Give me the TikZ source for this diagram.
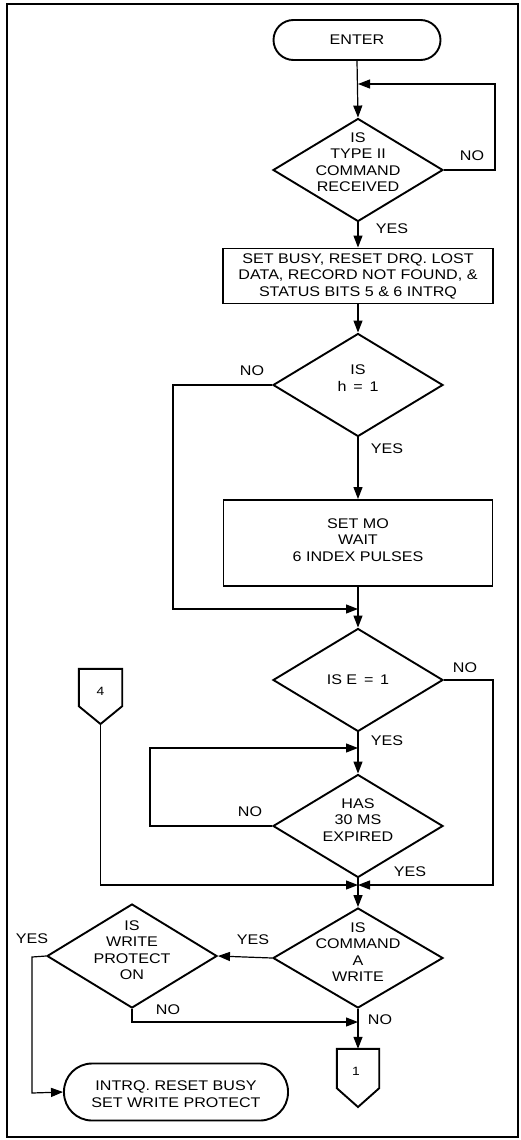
\documentclass[tikz,border=0pt]{standalone}
\usepackage{fontspec}
\setmainfont{Liberation Sans}[FakeStretch=1.15]
\usetikzlibrary{arrows.meta,shapes.geometric}
\tikzset{
  txt/.style={font=\fontsize{14}{16.5}\selectfont, align=center, inner sep=0pt},
  dec/.style={diamond, draw, line width=1.9pt, minimum width=170pt, minimum height=103pt, inner sep=0pt},
  proc/.style={rectangle, draw, line width=1.9pt, inner sep=0pt},
  term/.style={rectangle, draw, line width=1.9pt, inner sep=0pt},
  flow/.style={line width=1.2pt, -{Triangle[length=12pt,width=9pt]}},
  plain/.style={line width=1.2pt},
  conshape/.style={draw, line width=1.9pt, line join=miter},
}
\begin{document}
\begin{tikzpicture}[x=1pt,y=-1pt]
\useasboundingbox (0,0) rectangle (520,1140);
\draw[line width=1.3pt] (7,4) rectangle (518,1137);

% nodes
\node[term, minimum width=167pt, minimum height=40pt, rounded corners=20pt] (enter) at (357,40) {};
\node[txt] (entert) at (357,40) {ENTER};

\node[dec] (d1) at (358,170) {};
\node[txt] (d1t) at (358,162) {IS\\TYPE II\\COMMAND\\RECEIVED};

\node[proc, minimum width=270pt, minimum height=55pt] (b1) at (358,276) {};
\node[txt] (b1t) at (358,276) {SET BUSY, RESET DRQ. LOST\\DATA, RECORD NOT FOUND, \&\\STATUS BITS 5 \& 6 INTRQ};

\node[dec] (d2) at (358,385) {};
\node[txt] (d2t) at (358,378) {IS\\h \,=\, 1};

\node[proc, minimum width=269pt, minimum height=86pt] (b2) at (358,543) {};
\node[txt] (b2t) at (358,540) {SET MO\\WAIT\\6 INDEX PULSES};

\node[dec] (d3) at (358,680) {};
\node[txt] (d3t) at (358,680) {IS E \,=\, 1};

\node[dec] (d4) at (358,826) {};
\node[txt] (d4t) at (358,820) {HAS\\30 MS\\EXPIRED};

\node[dec, minimum height=100pt] (d5) at (358,958) {};
\node[txt] (d5t) at (358,952) {IS\\COMMAND\\A\\WRITE};

\node[dec, minimum height=104pt] (d6) at (132,956) {};
\node[txt] (d6t) at (132,950) {IS\\WRITE\\PROTECT\\ON};

\node[term, minimum width=224pt, minimum height=57pt, rounded corners=28pt] (t2) at (176,1092) {};
\node[txt] (t2t) at (176,1094) {INTRQ. RESET BUSY\\SET WRITE PROTECT};

% off-page connectors
\node[minimum width=43pt, minimum height=37pt, inner sep=0pt] (c4) at (100.5,687.5) {};
\coordinate (c4tip) at (100.5,724);
\draw[conshape] (c4.north west) -- (c4.north east) -- (c4.south east) -- (c4tip) -- (c4.south west) -- cycle;
\node[txt, font=\fontsize{12}{14}\selectfont] (c4t) at (100.5,691) {4};

\node[minimum width=42pt, minimum height=39pt, inner sep=0pt] (c1) at (358,1068.5) {};
\coordinate (c1tip) at (358,1107);
\draw[conshape] (c1.north west) -- (c1.north east) -- (c1.south east) -- (c1tip) -- (c1.south west) -- cycle;
\node[txt, font=\fontsize{12}{14}\selectfont] (c1t) at (356,1071) {1};

% junction coordinates
\coordinate (j1) at (358,84);
\coordinate (r1) at (495,170);
\coordinate (r1t) at (495,84);
\coordinate (l2) at (173,385);
\coordinate (l2b) at (173,609);
\coordinate (j2) at (358,609);
\coordinate (r3) at (493,680);
\coordinate (r3b) at (493,885);
\coordinate (j3) at (358,885);
\coordinate (l4) at (150,826);
\coordinate (l4t) at (150,748);
\coordinate (j4) at (358,748);
\coordinate (c4b) at (100.5,885);
\coordinate (l6) at (32,957);
\coordinate (l6b) at (32,1093);
\coordinate (d6b) at (132,1022);
\coordinate (j5) at (358,1022);

% connectors
\draw[flow] (enter.south) -- (d1.north);
\draw[flow] (d1.east) -- (r1) -- (r1t) -- (j1);
\draw[flow] (d1.south) -- (b1.north);
\draw[flow] (b1.south) -- (d2.north);
\draw[flow] (d2.west) -- (l2) -- (l2b) -- (j2);
\draw[flow] (d2.south) -- (b2.north);
\draw[flow] (b2.south) -- (d3.north);
\draw[flow] (d3.east) -- (r3) -- (r3b) -- (j3);
\draw[flow] (d3.south) -- (d4.north);
\draw[flow] (d4.west) -- (l4) -- (l4t) -- (j4);
\draw[flow] (c4tip) -- (c4b) -- (j3);
\draw[flow] (d4.south) -- (d5.north);
\draw[flow] (d5.west) -- (d6.east);
\draw[flow] (d6.west) -- (l6) -- (l6b) -- (t2.west);
\draw[flow] (d6.south) -- (d6b) -- (j5);
\draw[flow] (d5.south) -- (c1.north);

% labels
\node[txt] (n1) at (472,156) {NO};
\node[txt] (y1) at (392,229) {YES};
\node[txt] (n2) at (252,371) {NO};
\node[txt] (y2) at (387,449) {YES};
\node[txt] (n3) at (465,668) {NO};
\node[txt] (y3) at (387,741) {YES};
\node[txt] (n4) at (250,812) {NO};
\node[txt] (y4) at (410,872) {YES};
\node[txt] (y5) at (253,940) {YES};
\node[txt] (y6) at (32,939) {YES};
\node[txt] (n6) at (168,1010) {NO};
\node[txt] (n5) at (380,1020) {NO};
\end{tikzpicture}
\end{document}
